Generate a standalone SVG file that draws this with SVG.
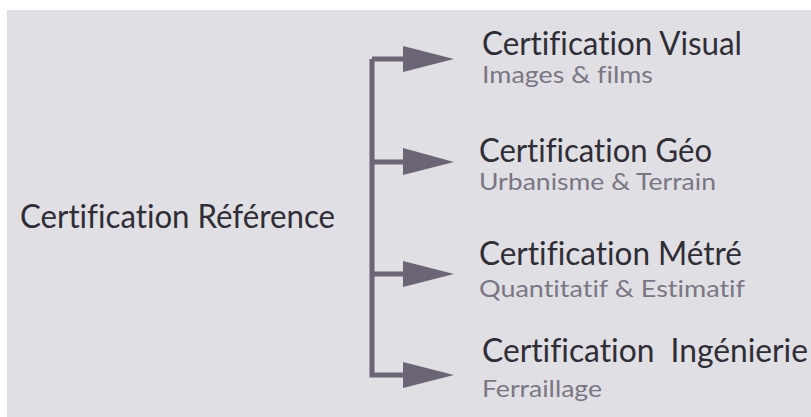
<svg xmlns="http://www.w3.org/2000/svg" width="811" height="417" viewBox="0 0 811 417">
<defs>
<style>
.t{font-family:Lato,"Liberation Sans",Arial,sans-serif;fill:#2f2d35;font-size:32px;font-variant-ligatures:none}
.s{font-family:Lato,"Liberation Sans",Arial,sans-serif;fill:#7b7684;font-size:23px;font-variant-ligatures:none}
.c{stroke:#6b6576;stroke-width:5;fill:none}
.h{fill:#6b6576}
</style>
</defs>
<rect x="0" y="0" width="811" height="417" fill="#ffffff"/>
<rect x="7" y="10" width="804" height="407" fill="#e0dfe3"/>
<g id="connectors">
<path class="c" d="M372 59 H405 M372 59 V375 H405 M372 162 H405 M372 274 H405"/>
<polygon class="h" points="403,46 454,59 403,72"/>
<polygon class="h" points="403,148 454,162 403,175"/>
<polygon class="h" points="403,261 454,274 403,287"/>
<polygon class="h" points="403,362 454,375 403,388"/>
</g>
<g id="root">
<text class="t" x="20" y="228" font-size="33" textLength="315" lengthAdjust="spacingAndGlyphs">Certification Référence</text>
</g>
<g id="visual">
<text class="t" x="482" y="55" textLength="260" lengthAdjust="spacingAndGlyphs">Certification Visual</text>
<text class="s" x="482" y="83" textLength="171" lengthAdjust="spacingAndGlyphs">Images &amp; films</text>
</g>
<g id="geo">
<text class="t" x="479" y="162" textLength="233" lengthAdjust="spacingAndGlyphs">Certification Géo</text>
<text class="s" x="479" y="190" textLength="237" lengthAdjust="spacingAndGlyphs">Urbanisme &amp; Terrain</text>
</g>
<g id="metre">
<text class="t" x="479" y="265" textLength="263" lengthAdjust="spacingAndGlyphs">Certification Métré</text>
<text class="s" x="479" y="297" textLength="266" lengthAdjust="spacingAndGlyphs">Quantitatif &amp; Estimatif</text>
</g>
<g id="ingenierie">
<text class="t" x="482" y="362" textLength="326" lengthAdjust="spacingAndGlyphs" xml:space="preserve">Certification  Ingénierie</text>
<text class="s" x="482" y="397" textLength="120" lengthAdjust="spacingAndGlyphs">Ferraillage</text>
</g>
</svg>
